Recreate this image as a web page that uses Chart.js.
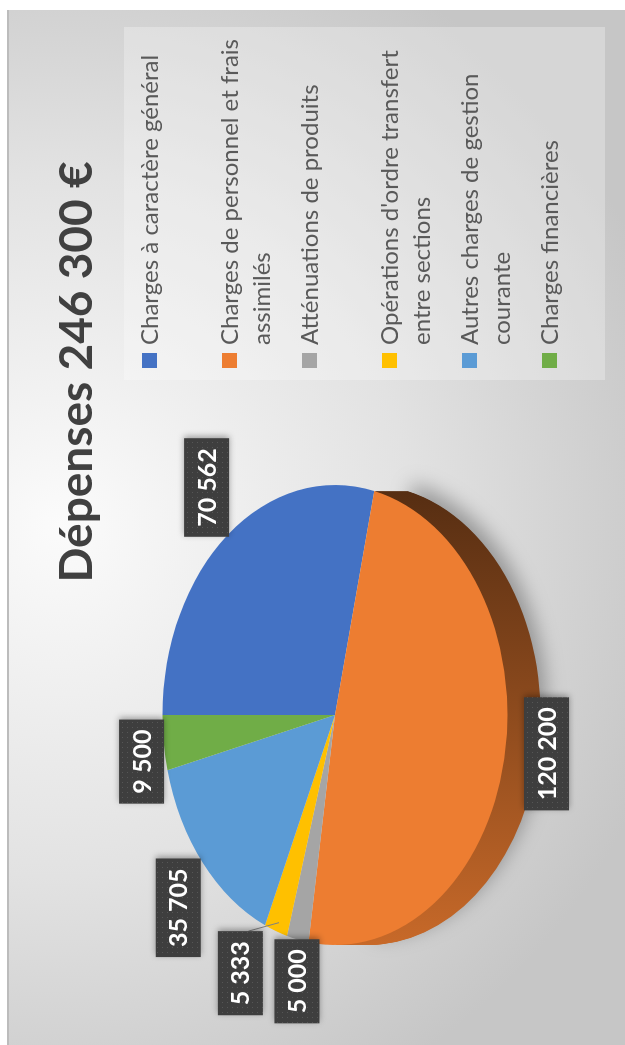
<!DOCTYPE html>
<html>
<head>
<meta charset="utf-8">
<script src="https://cdn.jsdelivr.net/npm/chart.js@4/dist/chart.umd.min.js"></script>
<style>
	html, body { margin: 0; padding: 0; background: #ffffff; overflow: hidden; }
	/* the whole chart is laid out landscape and turned a quarter left */
	#wrap {
		position: absolute; left: 0; top: 1045px;
		width: 1045px; height: 625px;
		transform-origin: 0 0; transform: rotate(-90deg);
	}
</style>
</head>
<body>
<div id="wrap"><canvas id="chart" width="1045" height="625"></canvas></div>
<script>

const titleText = 'Dépenses 246 300 €';
const categories = [
	'Charges à caractère général',
	'Charges de personnel et frais assimilés',
	'Atténuations de produits',
	"Opérations d'ordre transfert entre sections",
	'Autres charges de gestion courante',
	'Charges financières'
];
const amounts = [70562, 120200, 5000, 5333, 35705, 9500];
const sliceColors = ['#4472C4', '#ED7D31', '#A5A5A5', '#FFC000', '#5B9BD5', '#70AD47'];


const tiltY = 0.75;   // pie seen from above at an angle
const depth = 33;     // height of the pie side
const labelNudge = [[3, 14], [12, 6], [7, 10], [6, -18], [-11, 16], [-15, 9]];


function fmt(v) {
	return String(v).replace(/\B(?=(\d{3})+(?!\d))/g, ' ');
}

function shade(hex, f) {
	const n = parseInt(hex.slice(1), 16);
	const r = Math.round(((n >> 16) & 255) * f);
	const g = Math.round(((n >> 8) & 255) * f);
	const b = Math.round((n & 255) * f);
	return 'rgb(' + r + ',' + g + ',' + b + ')';
}

// outer band of a slice, moved down by dy (no radial edges)
function sidePath(ctx, p, start, end, dy) {
	ctx.save();
	ctx.translate(p.x, p.y + dy);
	ctx.scale(1, tiltY);
	ctx.beginPath();
	ctx.arc(0, 0, p.outerRadius, start, end);
	ctx.closePath();
	ctx.restore();
}

function wrap(ctx, text, maxWidth) {
	const words = text.split(' ');
	const lines = [];
	let line = '';
	words.forEach(function(w) {
		const test = line ? line + ' ' + w : w;
		if(line && ctx.measureText(test).width > maxWidth) {
			lines.push(line);
			line = w;
		} else {
			line = test;
		}
	});
	lines.push(line);
	return lines;
}


const backdrop = {
	id: 'backdrop',
	beforeDraw(chart) {
		const ctx = chart.ctx;
		ctx.save();
		ctx.fillStyle = '#ffffff';
		ctx.fillRect(0, 0, chart.width, chart.height);

		const g = ctx.createRadialGradient(520, 60, 0, 520, 60, 640);
		g.addColorStop(0, '#fbfbfb');
		g.addColorStop(0.55, '#e2e2e2');
		g.addColorStop(1, '#c6c6c6');
		ctx.fillStyle = g;
		ctx.fillRect(0, 7, 1035, 618);

		ctx.fillStyle = '#bcbcbc';
		ctx.fillRect(0, 7, 1035, 2);

		// legend panel
		ctx.fillStyle = 'rgba(255,255,255,0.28)';
		ctx.fillRect(665, 124, 353, 481);

		// title
		ctx.fillStyle = '#404040';
		ctx.font = 'bold 46px Lato';
		ctx.textAlign = 'center';
		ctx.textBaseline = 'alphabetic';
		ctx.fillText(titleText, 673, 92);
		ctx.restore();
	}
};


const tilt = {
	id: 'tilt',
	beforeDatasetsDraw(chart) {
		const ctx = chart.ctx;
		const meta = chart.getDatasetMeta(0);
		const colors = chart.data.datasets[0].backgroundColor;

		// side of the pie, only for slices on the near half
		ctx.save();
		for(let k = depth; k >= 1; k--) {
			meta.data.forEach(function(arc, i) {
				const p = arc.getProps(['x', 'y', 'startAngle', 'endAngle', 'outerRadius'], true);
				if(Math.sin((p.startAngle + p.endAngle) / 2) < 0) {
					return;
				}
				const start = Math.max(p.startAngle, 0);
				const end = Math.min(p.endAngle, Math.PI);
				const g = ctx.createLinearGradient(p.x + p.outerRadius, 0, p.x - p.outerRadius, 0);
				g.addColorStop(0, shade(colors[i], 0.36));
				g.addColorStop(1, shade(colors[i], 0.84));
				ctx.fillStyle = g;
				if(k === depth) {
					ctx.shadowColor = 'rgba(0,0,0,0.32)';
					ctx.shadowBlur = 20;
					ctx.shadowOffsetX = 8;
					ctx.shadowOffsetY = 5;
				} else {
					ctx.shadowColor = 'transparent';
				}
				sidePath(ctx, p, start, end, k);
				ctx.fill();
			});
		}
		ctx.restore();

		const a = meta.data[0];
		ctx.save();
		ctx.translate(a.x, a.y);
		ctx.scale(1, tiltY);
		ctx.translate(-a.x, -a.y);
	},
	afterDatasetsDraw(chart) {
		chart.ctx.restore();
	}
};


const valueLabels = {
	id: 'valueLabels',
	afterDraw(chart) {
		const ctx = chart.ctx;
		const meta = chart.getDatasetMeta(0);
		const values = chart.data.datasets[0].data;

		const pc = document.createElement('canvas');
		pc.width = 5; pc.height = 5;
		const px = pc.getContext('2d');
		px.fillStyle = '#3e3e3e';
		px.fillRect(0, 0, 5, 5);
		px.fillStyle = '#565656';
		px.fillRect(2, 2, 1, 1);
		const dots = ctx.createPattern(pc, 'repeat');

		ctx.save();
		ctx.font = 'bold 25px Lato';
		ctx.textAlign = 'center';
		ctx.textBaseline = 'middle';

		meta.data.forEach(function(arc, i) {
			const p = arc.getProps(['x', 'y', 'startAngle', 'endAngle', 'outerRadius'], true);
			const mid = (p.startAngle + p.endAngle) / 2;
			const dx = Math.cos(mid), dy = Math.sin(mid);
			const ax = p.x + dx * p.outerRadius;
			const ay = p.y + dy * p.outerRadius * tiltY;

			const text = fmt(values[i]);
			const w = ctx.measureText(text).width + 20;
			const h = 45;
			const ext = Math.abs(dx) * w / 2 + Math.abs(dy) * h / 2 + 4;
			const cx = ax + dx * ext + labelNudge[i][0];
			const cy = ay + dy * ext + labelNudge[i][1];

			if(i === 3) {
				ctx.strokeStyle = '#808080';
				ctx.lineWidth = 1;
				ctx.beginPath();
				ctx.moveTo(cx + w / 2, cy + 8);
				ctx.lineTo(ax - dx * 9, ay - dy * 9);
				ctx.stroke();
			}

			ctx.shadowColor = 'rgba(0,0,0,0.35)';
			ctx.shadowBlur = 6;
			ctx.shadowOffsetX = 2;
			ctx.fillStyle = dots;
			ctx.fillRect(cx - w / 2, cy - h / 2, w, h);
			ctx.shadowColor = 'transparent';

			ctx.fillStyle = '#ffffff';
			ctx.fillText(text, cx, cy + 1);
		});
		ctx.restore();
	}
};


const sideLegend = {
	id: 'sideLegend',
	afterDraw(chart) {
		const ctx = chart.ctx;
		const colors = chart.data.datasets[0].backgroundColor;
		ctx.save();
		ctx.font = '24px Lato';
		ctx.textAlign = 'left';
		ctx.textBaseline = 'alphabetic';
		chart.data.labels.forEach(function(label, i) {
			const yc = 149.5 + i * 80;
			ctx.fillStyle = colors[i];
			ctx.fillRect(677, yc - 7.5, 15, 15);
			ctx.fillStyle = '#595959';
			wrap(ctx, label, 312).forEach(function(line, j) {
				ctx.fillText(line, 700, yc + 8 + j * 32);
			});
		});
		ctx.restore();
	}
};


function draw() {
	const ctx = document.getElementById('chart').getContext('2d');

	new Chart(ctx, {
		type: 'pie',
		data: {
			labels: categories,
			datasets: [{
				data: amounts,
				backgroundColor: sliceColors,
				borderWidth: 0,
				clip: false
			}]
		},
		options: {
			responsive: false,
			animation: false,
			layout: {
				padding: {left: 100, right: 485, top: 105, bottom: 60}
			},
			plugins: {
				legend: {display: false},
				tooltip: {enabled: false}
			}
		},
		plugins: [backdrop, tilt, valueLabels, sideLegend]
	});
}

Promise.all([
	document.fonts.load('bold 46px Lato'),
	document.fonts.load('24px Lato')
]).then(draw, draw);

</script>
</body>
</html>
